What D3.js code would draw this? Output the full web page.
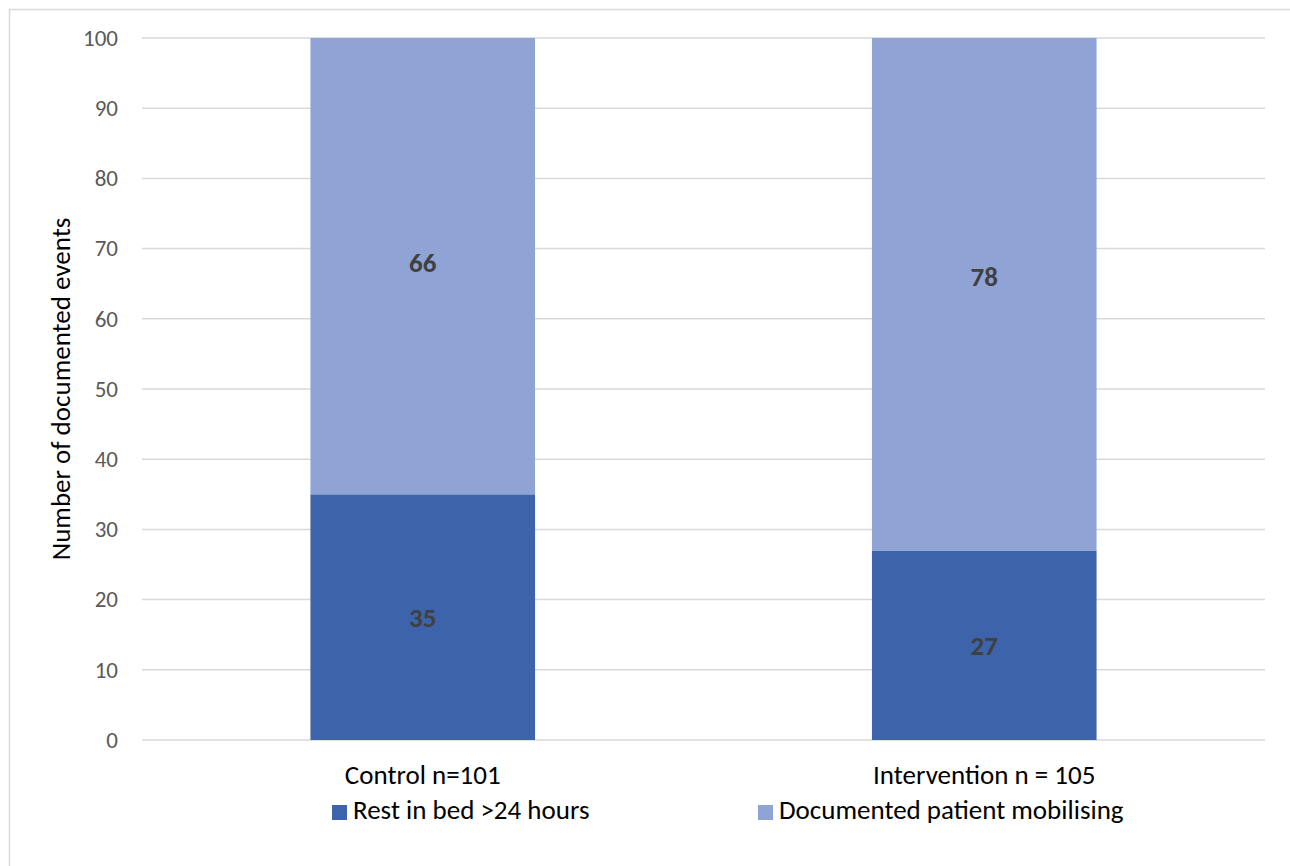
<!DOCTYPE html>
<html>
<head>
<meta charset="utf-8">
<script src="https://cdn.jsdelivr.net/npm/d3@7"></script>
<style>
  html, body { margin: 0; padding: 0; background: #fff; }
  svg { display: block; font-family: Carlito, Calibri, "Open Sans", sans-serif; }
</style>
</head>
<body>
<svg id="chart" width="1290" height="866"></svg>
<script>
// Groups on the x axis
const categories = ["Control n=101", "Intervention n = 105"];
// Stacked series, bottom to top
const seriesNames = ["Rest in bed >24 hours", "Documented patient mobilising"];
const restInBed = [35, 27];
const mobilising = [66, 78];
const yTicks = [0, 10, 20, 30, 40, 50, 60, 70, 80, 90, 100];
const yTitle = "Number of documented events";

const colors = ["#3d64ab", "#8fa3d4"];
const FONT = "Carlito, Calibri, 'Open Sans', sans-serif";

const svg = d3.select("#chart");
const W = 1290, H = 866;
const margin = { left: 142, right: 25, top: 38, bottom: 126 };
const plotW = W - margin.left - margin.right;
const plotH = H - margin.top - margin.bottom;

// chart frame
svg.append("rect")
  .attr("x", 9.5).attr("y", 9.5)
  .attr("width", W + 10).attr("height", H + 10)
  .attr("fill", "#fff").attr("stroke", "#d9d9d9").attr("stroke-width", 1.5);

const g = svg.append("g").attr("transform", `translate(${margin.left},${margin.top})`);

const x = d3.scaleBand().domain(categories).range([0, plotW]).paddingInner(0.6).paddingOuter(0.3);
const y = d3.scaleLinear().domain([0, 100]).range([plotH, 0]);

// gridlines
g.append("g").selectAll("line").data(yTicks).join("line")
  .attr("x1", 0).attr("x2", plotW)
  .attr("y1", d => y(d)).attr("y2", d => y(d))
  .attr("stroke", "#d9d9d9").attr("stroke-width", 1.5);

// y tick labels
const yAxis = d3.axisLeft(y).tickValues(yTicks).tickSize(0).tickPadding(24);
const ya = g.append("g").call(yAxis);
ya.select(".domain").remove();
ya.selectAll("text")
  .attr("fill", "#595959").style("font-size", "23px")
  .style("font-family", FONT);

// stacked data
const rows = categories.map((c, i) => ({ cat: c, rest: restInBed[i], mob: mobilising[i] }));
const stack = d3.stack().keys(["rest", "mob"]);
const layers = stack(rows);

// clip the bars to the value axis range
svg.append("clipPath").attr("id", "plotClip")
  .append("rect").attr("x", 0).attr("y", 0).attr("width", plotW).attr("height", plotH);

const barsG = g.append("g").attr("clip-path", "url(#plotClip)");
layers.forEach((layer, li) => {
  barsG.append("g").selectAll("rect").data(layer).join("rect")
    .attr("x", d => x(d.data.cat))
    .attr("width", x.bandwidth())
    .attr("y", d => y(d[1]))
    .attr("height", d => y(d[0]) - y(d[1]))
    .attr("fill", colors[li]);
});

// value labels, centred on each full segment
layers.forEach((layer, li) => {
  g.append("g").selectAll("text").data(layer).join("text")
    .attr("x", d => x(d.data.cat) + x.bandwidth() / 2)
    .attr("y", d => y((d[0] + d[1]) / 2))
    .attr("text-anchor", "middle").attr("dominant-baseline", "central")
    .attr("fill", "#404040").style("font-size", "27px").style("font-weight", "bold")
    .text(d => d[1] - d[0]);
});

// category labels
g.append("g").selectAll("text").data(categories).join("text")
  .attr("x", d => x(d) + x.bandwidth() / 2)
  .attr("y", plotH + 44)
  .attr("text-anchor", "middle")
  .attr("fill", "#000").style("font-size", "27px")
  .text(d => d);

// y axis title
svg.append("text")
  .attr("transform", `translate(70,${margin.top + plotH / 2}) rotate(-90)`)
  .attr("text-anchor", "middle")
  .attr("fill", "#000").style("font-size", "27px")
  .text(yTitle);

// legend
const legendItems = [{ x: 332, i: 0 }, { x: 758, i: 1 }];
const lg = svg.append("g");
legendItems.forEach(it => {
  lg.append("rect").attr("x", it.x).attr("y", 805).attr("width", 15).attr("height", 15)
    .attr("fill", colors[it.i]);
  lg.append("text").attr("x", it.x + 21).attr("y", 819)
    .attr("fill", "#000").style("font-size", "27px")
    .text(seriesNames[it.i]);
});
</script>
</body>
</html>
